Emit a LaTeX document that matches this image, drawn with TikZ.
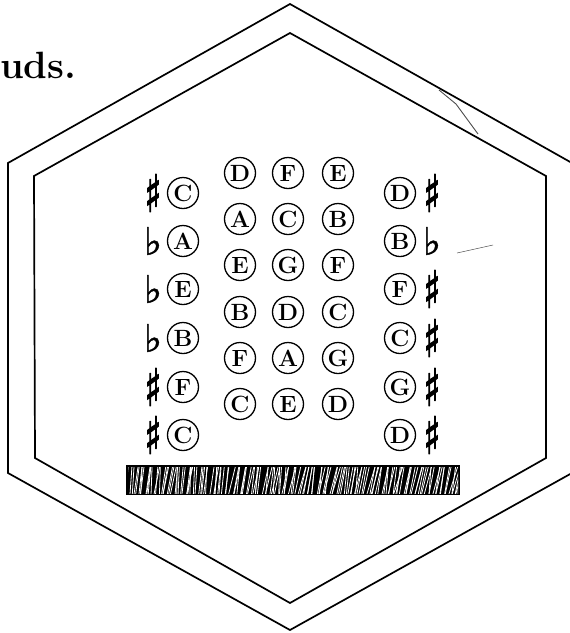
\documentclass[tikz,border=0pt]{standalone}
\usepackage{fontspec}
\newfontfamily\symfont[FakeBold=2.5]{DejaVu Sans}
\newfontfamily\flatfont[FakeBold=1.2]{DejaVu Sans}
\begin{document}
\begin{tikzpicture}[x=1pt,y=-1pt,
  hexline/.style={line width=1.7pt, line join=miter},
  note/.style={circle, draw, line width=1.3pt, minimum size=31pt, inner sep=0pt,
    font=\bfseries\fontsize{23.5}{23.5}\selectfont},
  acc/.style={inner sep=0pt, font=\symfont\fontsize{38}{38}\selectfont},
  title/.style={inner sep=0pt, anchor=base west, font=\bfseries\fontsize{38}{38}\selectfont},
  streak/.style={white, line width=0.8pt},
  scratch/.style={line width=0.9pt, black!70}]
\useasboundingbox (0,0) rectangle (570,633);
\clip (0,0) rectangle (570,633);

% title fragment
\node[title] (ttl) at (0,78) {uds.};

% hexagons
\draw[hexline] (290,4) -- (572,163) -- (572,473) -- (290,630) -- (8,473) -- (8,163) -- cycle;
\draw[hexline] (290,33) -- (546,176) -- (546,458) -- (290,603) -- (35,458) -- (34,176) -- cycle;

% middle grid
\foreach \r/\y/\a/\b/\c in {1/173/D/F/E, 2/219/A/C/B, 3/265/E/G/F, 4/312/B/D/C, 5/358/F/A/G, 6/404/C/E/D}{
  \node[note] (m\r a) at (240,\y) {\a};
  \node[note] (m\r b) at (288,\y) {\b};
  \node[note] (m\r c) at (338,\y) {\c};
}

% left column
\foreach \r/\y/\n/\s in {1/193/C/\scalebox{0.9}[1.35]{♯}, 2/241/A/{\flatfont ♭}, 3/289/E/{\flatfont ♭}, 4/338/B/{\flatfont ♭}, 5/387/F/\scalebox{0.9}[1.35]{♯}, 6/435/C/\scalebox{0.9}[1.35]{♯}}{
  \node[note] (l\r) at (183,\y) {\n};
  \node[acc] (la\r) at (153,\y) {\s};
}

% right column
\foreach \r/\y/\n/\s in {1/193/D/\scalebox{0.9}[1.35]{♯}, 2/241/B/{\flatfont ♭}, 3/289/F/\scalebox{0.9}[1.35]{♯}, 4/338/C/\scalebox{0.9}[1.35]{♯}, 5/387/G/\scalebox{0.9}[1.35]{♯}, 6/435/D/\scalebox{0.9}[1.35]{♯}}{
  \node[note] (r\r) at (400,\y) {\n};
  \node[acc] (ra\r) at (432,\y) {\s};
}

% hatched bar
\fill (126,465) rectangle (460,495);
\begin{scope}
  \clip (128,467) rectangle (458,493);
  \pgfmathsetseed{7}
  \foreach \i in {0,...,150}{
    \pgfmathsetmacro{\xa}{124+2.25*\i+2*rand}
    \pgfmathsetmacro{\dx}{3+0.02*\i*(1+rand)+3*rand}
    \draw[streak] (\xa,495) -- (\xa+\dx,465);
  }
\end{scope}

% scan marks
\draw[scratch] (439,90) -- (456,104) -- (478,134);
\draw[scratch, line width=0.5pt] (457,253) -- (475,249) -- (493,245);
\end{tikzpicture}
\end{document}
